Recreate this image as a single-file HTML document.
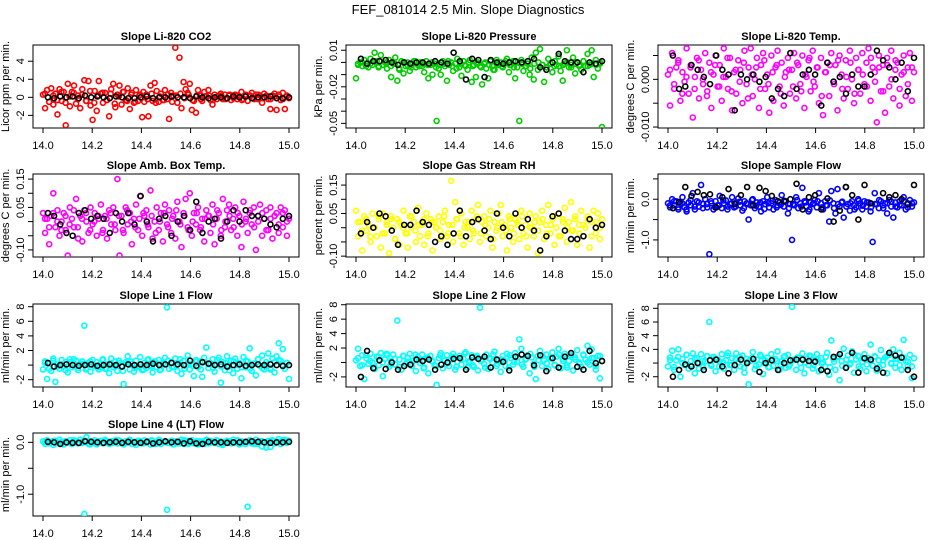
<!DOCTYPE html>
<html><head><meta charset="utf-8"><style>
html,body{margin:0;padding:0;background:#fff}
svg{display:block;font-family:"Liberation Sans",sans-serif}
</style></head><body>
<svg id="chart" width="936" height="540" viewBox="0 0 936 540">
<text x="468" y="14" text-anchor="middle" font-size="13">FEF_081014  2.5 Min. Slope Diagnostics</text>
</svg>
<script>
const xTickVals=[14.0,14.2,14.4,14.6,14.8,15.0];
const xTickLabels=["14.0","14.2","14.4","14.6","14.8","15.0"];
const titles=["Slope Li-820 CO2","Slope Li-820 Pressure","Slope Li-820 Temp.","Slope Amb. Box Temp.","Slope Gas Stream RH","Slope Sample Flow","Slope Line 1 Flow","Slope Line 2 Flow","Slope Line 3 Flow","Slope Line 4 (LT) Flow"];
const yLabels=["Licor ppm per min.","kPa per min.","degrees C per min.","degrees C per min.","percent per min.","ml/min per min.","ml/min per min.","ml/min per min.","ml/min per min.","ml/min per min."];
const yLims=[[-3.4,5.8],[-0.0538,0.0143],[-0.0102,0.0072],[-0.125,0.168],[-0.103,0.189],[-1.42,0.62],[-3.0,8.37],[-3.4,8.1],[-3.5,8.63],[-1.42,0.18]];
const yTickVals=[[-2,0,2,4],[0.01,0,-0.01,-0.02,-0.03,-0.04,-0.05],[0.005,0,-0.005,-0.01],[0.15,0.10,0.05,0,-0.05,-0.10],[0.15,0.10,0.05,0,-0.05,-0.10],[0.5,0,-0.5,-1.0],[8,6,4,2,0,-2],[8,6,4,2,0,-2],[8,6,4,2,0,-2],[0,-0.5,-1.0]];
const yTickLabels=[["-2","0","2","4"],["0.01","","","-0.02","","","-0.05"],["","0.000","","-0.010"],["0.15","","0.05","","","-0.10"],["0.15","","0.05","","","-0.10"],["","0.0","","-1.0"],["8","6","4","2","","-2"],["8","6","4","2","","-2"],["8","6","4","2","","-2"],["0.0","","-1.0"]];
const seriesColors=["#ff0000","#00cd00","#ff00ff","#ff00ff","#ffff00","#0000ff","#00ffff","#00ffff","#00ffff","#00ffff"];
const co2Line=[0.3,-1.2,0.8,-0.5,1.0,-0.8,0.4,-1.9,0.9,-0.4,0.6,-3.1,1.5,-1.0,0.6,1.3,-0.7,0.2,-1.2,0.9,1.9,-0.4,1.8,-0.9,-2.5,0.7,-1.5,1.8,0.4,-0.6,0.5,-0.3,-2.1,0.9,1.5,-1.1,0.3,1.3,-0.8,0.6,-0.3,1.0,-1.3,0.5,-0.6,0.8,-0.4,0.3,-2.2,-0.5,0.3,-2.1,1.3,-0.4,1.6,0.7,-0.5,0.4,-0.3,0.8,-0.2,-2.4,0.5,0.2,5.5,-0.6,4.4,-1.2,1.7,0.9,0.5,1.5,-1.4,-0.4,-1.7,0.8,0.2,-0.4,0.6,0.1,0.8,-0.3,-0.8,0.3,-0.2,0.2,0.4,-0.2,0.3,-0.1,0.2,-0.3,0.2,0.3,-0.2,0.1,0.6,-0.2,0.3,-0.4,0.2,0.5,-0.1,0.3,-0.2,0.2,-0.6,0.4,0.1,-0.2,-1.3,0.2,0.4,-1.4,0.1,-0.3,0.5,-1.3,0.2,-0.1];
const co2Band=[0.4,-0.5,0.2,-0.3,0.6,-0.6,0.1,0.5,-0.2,0.3,-0.4,0.7,-0.6,0.2,0.5,-0.3,0.4,-0.7,0.1,0.6,-0.4,0.3,-0.5,0.2,0.6,-0.2,0.4,-0.6,0.1,-0.3,0.3,-0.5,0.2,0.4,-0.1,0.3,-0.3,0.2,-0.2,0.1,0.2,-0.3,0.1,0.2,-0.2,0.3,-0.1,0.2,-0.3,0.1,0.2,-0.2,0.3,-0.1,0.2,-0.2,0.1,0.3,-0.2,0.1];
const co2Mean=[0.0,-0.1,0.1,0.0,0.1,-0.1,0.2,0.0,0.1,0.0,-0.1,0.1,0.0,-0.1,-0.1,0.0,0.1,-0.1,0.0,0.0,0.1,0.0,0.0,-0.1,0.1,0.0,-0.1,0.0,0.0,-0.1,0.1,0.0,0.1,-0.1,0.0,0.0,0.1,-0.1,-0.1,0.0];
const presLine=[-0.013,-0.001,0.000,-0.003,0.002,-0.001,-0.004,0.003,-0.002,0.008,0.001,-0.003,0.006,-0.002,0.000,-0.005,0.002,-0.012,-0.001,0.004,-0.015,-0.006,0.001,-0.009,-0.003,0.000,-0.007,-0.002,0.001,-0.004,-0.002,0.000,-0.003,-0.008,0.001,-0.013,-0.002,-0.010,-0.001,-0.048,-0.005,-0.010,0.001,-0.003,-0.015,-0.002,0.000,-0.007,-0.001,0.003,-0.004,-0.011,0.001,-0.003,-0.006,0.002,-0.016,-0.002,-0.012,0.000,-0.003,-0.018,-0.001,-0.005,-0.013,0.001,-0.003,-0.006,0.002,-0.002,0.000,-0.004,-0.001,0.003,-0.008,-0.002,0.001,-0.013,-0.004,-0.048,0.002,-0.007,-0.003,-0.001,-0.010,0.004,-0.014,0.008,-0.006,0.011,-0.002,-0.016,-0.004,0.003,-0.001,-0.008,-0.003,-0.002,0.005,-0.007,-0.015,-0.001,0.010,-0.004,-0.002,0.004,-0.009,0.000,-0.003,-0.006,0.001,-0.003,0.007,-0.002,0.010,-0.012,0.002,-0.005,-0.001,-0.053];
const presBand=[-0.002,0.000,-0.003,-0.001,0.001,-0.004,-0.002,0.000,-0.003,-0.001,-0.005,0.000,-0.002,-0.004,0.001,-0.003,-0.001,-0.002,0.000,-0.004,-0.002,-0.001,0.001,-0.003,-0.005,-0.001,-0.002,0.000,-0.003,-0.001,-0.004,0.000,-0.002,-0.006,-0.001,-0.003,0.001,-0.002,-0.004,0.000,-0.001,-0.003,-0.005,-0.001,0.000,-0.002,-0.004,-0.001,0.001,-0.003,-0.002,0.000,-0.004,-0.001,-0.002,0.001,-0.003,-0.001,-0.002,0.000];
const presMean=[0.003,-0.001,0.001,0.001,0.002,0.000,-0.002,0.000,-0.001,0.000,0.000,-0.001,0.001,0.000,-0.001,0.008,0.001,-0.014,0.003,0.002,-0.012,0.002,0.000,-0.001,0.000,0.001,0.000,0.001,0.003,-0.004,-0.006,0.000,0.007,0.001,0.000,0.000,-0.008,0.000,-0.001,0.001];
const tempLine=[0.0010,-0.0055,0.0055,-0.0020,0.0025,0.0040,-0.0045,0.0015,-0.0005,0.0065,-0.0030,0.0030,-0.0080,0.0005,0.0045,-0.0040,0.0020,-0.0010,0.0055,-0.0025,0.0035,-0.0060,0.0010,0.0050,-0.0015,0.0030,-0.0045,0.0065,0.0005,-0.0020,0.0045,-0.0065,0.0015,-0.0030,0.0040,0.0020,-0.0050,0.0060,-0.0010,0.0025,0.0065,-0.0035,0.0000,0.0045,-0.0060,0.0030,0.0055,-0.0020,0.0010,-0.0070,0.0050,-0.0045,0.0025,0.0060,-0.0015,0.0035,-0.0055,0.0015,0.0045,-0.0030,0.0020,0.0055,-0.0040,0.0030,-0.0010,0.0050,-0.0060,0.0005,0.0040,-0.0025,0.0060,-0.0015,0.0025,-0.0050,0.0045,-0.0075,0.0015,0.0035,-0.0035,0.0055,-0.0005,0.0030,-0.0065,0.0050,0.0010,-0.0040,0.0040,-0.0020,0.0060,0.0000,-0.0050,0.0045,0.0020,-0.0030,0.0055,-0.0010,0.0035,0.0065,-0.0045,0.0025,0.0015,-0.0090,0.0050,-0.0025,0.0030,-0.0070,0.0045,-0.0015,0.0060,-0.0040,0.0020,0.0035,-0.0055,0.0010,0.0050,-0.0035,0.0025,0.0055,-0.0045,0.0015];
const tempBand=[0.0020,-0.0010,0.0035,-0.0030,0.0005,0.0025,-0.0020,0.0040,0.0000,-0.0035,0.0015,0.0030,-0.0015,0.0005,0.0045,-0.0025,0.0020,-0.0005,0.0035,-0.0040,0.0010,0.0025,-0.0020,0.0040,-0.0010,0.0015,0.0030,-0.0030,0.0005,0.0020,-0.0015,0.0035,-0.0025,0.0010,0.0045,-0.0005,0.0025,-0.0035,0.0015,0.0030,-0.0010,0.0040,-0.0020,0.0005,0.0035,-0.0030,0.0020,0.0010,-0.0015,0.0045,-0.0005,0.0025,-0.0025,0.0030,0.0000,0.0040,-0.0020,0.0015,-0.0010,0.0025];
const tempMean=[0.0050,-0.0020,-0.0015,0.0030,0.0020,0.0005,-0.0010,0.0050,0.0020,0.0010,-0.0065,0.0010,0.0000,0.0010,-0.0005,0.0005,-0.0040,-0.0020,-0.0035,0.0055,-0.0020,0.0010,0.0020,0.0010,-0.0055,0.0035,-0.0005,0.0005,-0.0030,0.0010,-0.0015,-0.0015,0.0010,0.0060,0.0040,0.0025,0.0000,0.0035,-0.0025,0.0045];
const ambLine=[0.03,-0.04,0.01,-0.08,0.02,0.10,-0.02,0.04,-0.05,0.00,0.03,-0.03,-0.12,0.05,0.01,-0.02,0.08,-0.06,0.02,-0.07,0.04,0.00,-0.04,0.05,-0.01,0.03,-0.05,0.01,0.06,-0.03,0.02,-0.06,0.04,-0.01,0.05,-0.03,0.15,-0.12,0.02,-0.04,0.05,-0.01,0.03,-0.08,0.01,0.06,-0.03,0.09,-0.05,0.02,0.04,-0.02,0.11,-0.06,0.00,0.05,-0.03,0.03,-0.07,0.06,-0.01,0.04,-0.04,0.02,-0.06,0.07,0.00,-0.09,0.03,0.08,-0.02,0.10,-0.05,0.03,-0.01,0.05,-0.03,0.01,-0.07,0.04,0.02,-0.04,0.06,-0.08,0.01,0.03,-0.05,0.08,-0.02,0.04,0.06,-0.03,0.01,0.05,-0.05,0.02,-0.09,0.07,0.00,-0.04,0.03,-0.01,0.05,-0.10,0.02,0.06,-0.05,0.01,0.04,-0.03,0.05,-0.06,0.02,0.03,-0.04,0.05,-0.02,0.04,-0.05,0.01];
const ambBand=[0.01,-0.02,0.03,0.00,-0.03,0.02,-0.01,0.04,-0.02,0.01,0.03,-0.03,0.00,0.02,-0.04,0.01,0.03,-0.01,0.02,-0.03,0.04,0.00,-0.02,0.01,0.03,-0.01,0.02,-0.04,0.00,0.03,-0.02,0.01,0.04,-0.01,0.02,-0.03,0.00,0.03,-0.02,0.01,0.02,-0.01,0.04,-0.03,0.00,0.02,-0.02,0.03,-0.01,0.01,0.04,-0.02,0.00,0.03,-0.03,0.01,0.02,-0.01,0.03,0.00];
const ambMean=[0.03,0.02,-0.01,-0.04,-0.05,0.03,0.04,0.01,0.02,0.01,-0.04,0.03,0.00,0.03,-0.01,0.09,0.00,-0.07,0.01,0.02,-0.05,0.00,0.02,-0.03,0.07,-0.04,0.00,0.01,-0.06,0.00,0.04,0.00,0.04,0.02,0.02,0.01,-0.01,-0.02,0.01,0.02];
const rhLine=[0.06,-0.03,0.02,-0.08,0.04,-0.01,0.01,-0.05,0.05,0.00,-0.03,0.03,-0.07,0.05,-0.02,0.02,-0.09,0.04,0.00,-0.04,0.03,-0.06,0.01,0.06,-0.02,-0.07,0.04,0.00,0.02,-0.05,0.07,-0.03,0.01,-0.06,0.05,-0.02,0.03,-0.08,0.02,0.00,0.04,-0.04,0.02,0.06,-0.03,0.01,0.165,-0.05,0.09,0.03,-0.02,0.05,-0.06,0.02,0.00,-0.04,0.06,-0.02,0.03,0.08,-0.05,0.02,0.04,-0.03,0.00,0.06,-0.07,0.02,-0.01,0.05,0.08,-0.03,0.01,-0.08,0.04,0.00,-0.05,0.03,0.02,-0.04,0.06,-0.02,0.01,-0.07,0.05,0.00,-0.03,0.04,-0.09,0.02,0.06,-0.04,0.01,0.08,-0.02,0.03,-0.06,0.00,0.05,-0.03,0.03,0.07,-0.05,0.02,0.09,-0.01,0.04,-0.06,0.01,0.06,-0.03,0.00,0.04,-0.07,0.02,0.06,-0.02,0.05,-0.04,0.03];
const rhBand=[0.02,-0.01,0.03,-0.03,0.00,0.04,-0.02,0.01,0.03,-0.04,0.02,0.00,-0.02,0.04,-0.01,0.01,0.03,-0.03,0.02,0.00,-0.01,0.04,-0.02,0.01,0.03,-0.03,0.00,0.02,-0.01,0.04,-0.02,0.01,0.03,-0.04,0.00,0.02,-0.01,0.03,-0.02,0.01,0.04,-0.03,0.00,0.02,-0.01,0.03,-0.02,0.01,0.04,-0.03,0.02,0.00,-0.01,0.03,-0.02,0.01,0.03,-0.03,0.02,0.00];
const rhMean=[-0.02,0.02,0.00,0.05,0.04,-0.01,-0.06,0.01,0.01,0.06,0.02,0.01,-0.05,-0.03,-0.06,-0.02,0.06,-0.03,0.02,0.03,-0.01,-0.04,0.05,0.00,-0.03,0.05,0.00,0.03,-0.01,-0.08,-0.03,0.04,0.05,-0.01,-0.04,-0.04,-0.03,0.03,0.00,0.01];
const sampleLine=[-0.10,-0.20,0.00,-0.15,-0.05,-0.25,-0.10,0.05,-0.20,-0.30,-0.08,-0.15,0.15,-0.25,-0.05,-0.18,0.35,-0.12,0.00,-0.20,-1.35,-0.10,-0.25,-0.05,-0.15,0.08,-0.22,-0.10,-0.03,-0.18,-0.12,0.05,-0.20,-0.08,0.02,-0.15,-0.28,-0.05,-0.10,-0.50,-0.15,0.00,-0.22,-0.08,-0.18,-0.30,-0.05,-0.12,0.05,-0.20,-0.10,-0.25,-0.02,-0.15,-0.08,0.10,-0.18,-0.05,-0.35,-0.12,-1.00,-0.15,0.05,-0.22,-0.10,0.28,-0.05,-0.18,-0.30,-0.08,-0.12,-0.02,-0.20,0.15,-0.10,-0.25,-0.05,-0.15,-0.55,0.20,-0.10,-0.35,0.25,-0.18,-0.08,-0.45,0.30,-0.12,-0.28,-0.05,-0.15,-0.20,0.00,-0.10,-0.25,-0.05,-0.18,-0.08,-0.30,-1.05,0.15,-0.12,-0.22,-0.05,-0.15,-0.10,-0.35,-0.02,-0.18,-0.45,-0.08,-0.20,-0.05,-0.15,0.05,-0.25,-0.10,-0.02,-0.18,-0.08];
const sampleBand=[-0.15,-0.05,-0.20,-0.10,-0.25,-0.02,-0.18,-0.08,-0.22,-0.12,-0.05,-0.20,-0.15,-0.03,-0.25,-0.10,-0.18,-0.06,-0.22,-0.12,-0.02,-0.16,-0.08,-0.24,-0.10,-0.04,-0.20,-0.14,-0.06,-0.22,-0.12,-0.02,-0.18,-0.08,-0.25,-0.10,-0.05,-0.20,-0.15,-0.03,-0.22,-0.12,-0.06,-0.18,-0.10,-0.25,-0.04,-0.16,-0.08,-0.20,-0.12,-0.02,-0.22,-0.10,-0.06,-0.18,-0.14,-0.04,-0.20,-0.10];
const sampleMean=[-0.22,-0.07,0.30,0.08,0.18,0.10,0.12,-0.20,0.05,0.25,-0.12,0.10,0.30,-0.15,0.28,0.20,0.08,-0.05,-0.04,0.00,0.38,-0.25,0.05,0.10,-0.25,0.02,-0.55,-0.28,0.30,0.10,-0.50,0.35,-0.10,0.80,0.15,0.05,0.10,0.00,-0.12,0.35];
const line1Flow=[-0.6,0.5,-1.9,0.2,-0.8,0.9,-2.3,0.1,-0.5,0.7,-0.2,0.4,-1.0,0.8,-0.3,0.2,0.6,-0.7,0.1,0.5,5.4,-0.4,0.3,-0.9,0.7,-0.2,0.4,-0.6,0.2,0.8,-0.5,0.1,-1.1,0.9,-0.3,0.5,-0.8,0.3,-0.1,-2.6,0.4,1.2,-0.6,0.2,-0.9,0.6,-0.2,1.1,-0.7,0.3,-0.4,0.8,0.0,-1.0,0.5,-0.3,0.7,-0.6,0.2,1.0,7.9,-0.5,0.4,-0.2,0.9,-0.8,0.3,-1.2,0.6,-0.1,1.3,-0.6,0.2,-1.5,0.7,-0.3,0.5,-1.6,1.0,2.4,-0.4,0.3,0.8,-0.9,0.1,1.0,-2.4,0.4,-0.7,1.2,-0.2,0.6,-1.1,0.9,-0.5,0.3,-1.8,1.1,-0.3,0.5,2.3,-0.8,0.2,-1.4,0.8,-0.1,1.3,-0.6,0.4,1.6,-0.4,0.9,-1.0,1.2,3.0,0.6,2.2,-0.5,0.3,-1.9];
const line1Band=[0.3,-0.5,0.6,-0.2,0.1,-0.7,0.4,0.8,-0.4,0.2,-0.6,0.5,0.0,-0.3,0.7,-0.5,0.3,-0.1,0.6,-0.8,0.2,0.5,-0.4,0.1,-0.6,0.7,-0.2,0.4,-0.7,0.3,0.6,-0.3,0.0,0.8,-0.5,0.2,-0.1,0.5,-0.6,0.4,0.1,-0.4,0.7,-0.2,0.3,-0.7,0.5,0.0,-0.3,0.6,-0.5,0.2,0.8,-0.4,0.1,-0.6,0.4,0.7,-0.2,0.3];
const line1Mean=[0.3,-0.2,0.0,0.1,0.0,-0.1,0.0,0.1,-0.1,0.0,0.1,0.0,-0.2,0.1,0.0,0.1,0.0,0.2,0.0,0.1,0.3,0.1,0.0,0.6,-0.1,0.4,0.2,0.0,0.1,-0.2,0.0,0.1,-0.1,0.0,0.1,0.0,0.1,0.0,-0.1,0.0];
const line2Flow=[0.3,1.9,-0.5,1.0,-2.3,0.6,-0.2,1.2,0.0,-0.9,0.8,-0.4,1.3,-1.9,0.5,1.0,-0.6,0.2,1.1,-0.3,5.8,0.4,-1.0,0.9,-0.2,0.6,1.2,-0.5,0.3,-1.2,0.8,-0.1,1.1,-0.7,0.5,-1.5,0.9,0.2,-0.4,-3.1,0.6,1.3,-0.8,0.3,1.0,-0.5,0.4,1.2,-1.0,0.1,0.9,-0.3,0.5,1.4,-0.7,0.2,1.0,-0.6,0.7,-1.1,7.6,0.4,-0.2,1.1,-0.9,0.5,0.0,1.5,-0.5,0.3,-1.3,0.9,0.2,1.2,-0.7,0.6,-0.3,1.3,0.1,3.2,1.9,-0.6,0.4,1.0,-1.5,0.7,-0.2,-2.3,0.9,1.6,-0.5,0.3,1.1,-0.9,0.6,1.4,-0.3,0.8,1.9,-0.8,0.5,1.2,-0.4,0.2,1.0,-1.1,0.7,1.7,0.0,-0.6,1.1,0.4,2.3,-0.3,1.8,0.6,-1.0,0.9,-2.2,0.2];
const line2Band=[0.6,-0.4,1.0,0.2,-0.7,0.8,0.0,1.2,-0.3,0.5,-0.6,0.9,0.1,-0.2,1.1,0.4,-0.8,0.7,0.2,-0.5,1.0,0.3,-0.1,0.8,-0.6,0.5,1.2,0.0,-0.4,0.9,0.2,-0.7,0.6,1.1,-0.2,0.4,-0.5,1.0,0.1,0.7,-0.3,0.5,1.2,-0.6,0.3,0.9,-0.1,0.6,-0.4,1.1,0.2,-0.7,0.8,0.4,-0.2,1.0,0.0,0.6,-0.5,0.9];
const line2Mean=[-2.0,1.6,-0.8,0.3,-0.9,0.0,-1.0,-0.5,-0.3,0.4,0.2,0.4,-1.0,-0.3,0.0,0.5,0.6,-1.0,0.7,0.5,0.8,-0.7,0.4,0.1,-1.1,0.8,1.1,0.9,-0.4,1.0,-1.2,0.6,-0.7,0.8,1.3,-0.6,-1.0,1.6,-0.1,0.2];
const line3Flow=[-0.5,0.8,1.8,-1.0,0.4,2.0,-2.0,0.6,-0.3,1.2,-0.8,0.3,1.4,-1.5,0.7,0.0,1.3,-0.6,0.2,1.0,6.0,-0.4,0.9,-1.2,0.5,0.2,1.3,-0.8,0.4,1.5,-0.3,0.7,-1.0,1.4,0.1,-0.5,1.1,-1.4,0.6,-3.1,0.3,1.6,-0.9,0.5,-0.2,1.0,-1.6,0.4,0.8,-0.6,1.3,-0.4,0.6,1.7,-1.0,0.2,0.9,-0.7,1.2,-0.2,8.2,0.5,-1.0,0.8,0.0,1.4,-1.5,0.6,-0.3,1.0,-0.8,0.4,1.3,-1.2,0.7,0.1,-0.5,1.5,-1.7,3.3,0.6,-1.0,0.9,-2.5,0.3,2.1,-0.6,1.1,-0.2,1.7,-1.4,0.5,1.0,-0.8,0.2,1.3,-1.2,0.7,2.7,-0.4,1.0,-1.1,0.4,1.9,-0.3,0.8,-1.5,1.2,0.0,2.0,-0.7,0.6,1.5,-1.0,3.4,0.3,-0.5,1.2,-2.2,0.7];
const line3Band=[0.4,-0.6,0.9,0.0,1.2,-0.4,0.6,-0.8,0.3,1.0,-0.2,0.7,-0.5,0.1,1.1,-0.3,0.5,0.9,-0.7,0.2,0.8,-0.4,1.2,0.0,-0.6,0.6,0.3,-0.2,1.0,-0.5,0.4,0.8,-0.7,0.1,1.1,-0.3,0.6,-0.1,0.9,-0.6,0.2,1.0,-0.4,0.5,0.0,1.2,-0.5,0.7,-0.2,0.3,0.9,-0.6,0.4,1.1,-0.1,0.6,-0.3,0.8,0.2,-0.5];
const line3Mean=[-2.0,-1.0,-0.2,-0.5,0.0,-1.0,0.4,0.5,-0.5,-1.5,-0.3,0.5,0.0,0.6,-1.3,0.0,0.4,-1.0,0.0,0.4,0.5,0.5,0.3,0.2,-1.0,-1.2,0.9,1.3,-0.7,1.5,-1.4,0.7,0.5,-0.8,-1.4,1.5,1.1,0.8,-1.0,-2.0];
const line4Flow=[0.02,-0.03,0.04,-0.01,0.00,-0.05,0.03,-0.02,0.05,0.01,-0.04,0.02,-0.01,0.04,-0.03,0.00,0.03,-0.02,0.05,-0.01,-1.38,0.10,-0.03,0.02,-0.01,0.04,-0.04,0.01,0.03,-0.02,0.05,0.00,-0.03,0.02,-0.01,0.04,-0.02,0.03,0.00,-0.04,0.02,-0.01,0.05,-0.03,0.01,-0.05,0.03,0.00,-0.02,0.04,-0.01,0.02,-0.04,0.03,0.00,-0.02,0.05,-0.03,0.01,0.02,-1.30,-0.01,0.03,-0.04,0.02,0.00,-0.02,0.05,-0.03,0.01,0.03,-0.01,0.04,-0.02,0.00,-0.04,0.02,0.01,-0.03,0.05,-0.02,0.03,0.00,-0.01,0.04,-0.03,0.02,-0.05,0.01,0.03,0.00,-0.02,0.05,-0.01,0.03,-0.04,0.02,0.00,-0.03,-1.24,0.04,-0.02,0.01,0.05,-0.03,0.02,-0.08,0.00,-0.10,0.03,-0.09,0.04,-0.02,0.01,0.06,-0.03,0.02,0.05,-0.01,0.03];
const line4Band=[0.01,-0.02,0.03,0.00,-0.03,0.02,-0.01,0.04,-0.02,0.01,0.03,-0.04,0.00,0.02,-0.01,0.03,-0.02,0.01,0.04,-0.03,0.00,0.02,-0.01,0.03,-0.02,0.01,0.04,-0.03,0.02,0.00,-0.01,0.03,-0.02,0.01,0.04,-0.03,0.00,0.02,-0.01,0.03,-0.02,0.01,0.03,-0.04,0.00,0.02,-0.01,0.04,-0.02,0.01,0.03,-0.03,0.00,0.02,-0.01,0.03,-0.02,0.01,0.04,0.00];
const line4Mean=[0.01,0.00,-0.03,0.00,-0.01,-0.01,0.02,0.01,0.00,-0.01,0.00,0.01,-0.01,0.01,0.00,-0.01,0.01,-0.02,0.00,0.02,0.00,0.01,-0.02,0.02,-0.02,-0.03,0.01,0.00,0.00,-0.01,0.00,0.00,0.01,0.02,0.01,0.00,-0.01,0.00,0.00,0.01];
const lineSeries=[co2Line,presLine,tempLine,ambLine,rhLine,sampleLine,line1Flow,line2Flow,line3Flow,line4Flow];
const bandSeries=[co2Band,presBand,tempBand,ambBand,rhBand,sampleBand,line1Band,line2Band,line3Band,line4Band];
const meanSeries=[co2Mean,presMean,tempMean,ambMean,rhMean,sampleMean,line1Mean,line2Mean,line3Mean,line4Mean];

const NS="http://www.w3.org/2000/svg";
const svg=document.getElementById('chart');
const colX=[33,346,658], rowY=[45,174,304,433], FW=266, FH=83;
function mk(tag,attrs,parent){const e=document.createElementNS(NS,tag);for(const k in attrs)e.setAttribute(k,attrs[k]);parent.appendChild(e);return e;}
function slug(s){return s.toLowerCase().replace(/[^a-z0-9]+/g,'-').replace(/^-|-$/g,'');}

titles.forEach((title,p)=>{
  const fx=colX[p%3], fy=rowY[Math.floor(p/3)];
  const [y0,y1]=yLims[p];
  const xs=v=>fx+10+(v-14)*(FW-20);
  const ys=v=>fy+FH-(v-y0)/(y1-y0)*FH;
  const g=mk('g',{},svg);
  
  
  const t=mk('text',{x:fx+FW/2,y:fy-5,'text-anchor':'middle','font-size':'11','font-weight':'bold'},g);
  t.textContent=title;
  
  
  const xa=mk('g',{},g);
  
  
  mk('line',{x1:xs(14),x2:xs(15),y1:fy+FH,y2:fy+FH,stroke:'#000','stroke-width':1},xa);
  xTickVals.forEach((v,i)=>{
    mk('line',{x1:xs(v),x2:xs(v),y1:fy+FH,y2:fy+FH+5,stroke:'#000','stroke-width':1},xa);
    const tl=mk('text',{x:xs(v),y:fy+FH+21,'text-anchor':'middle','font-size':'11'},xa);
    tl.textContent=xTickLabels[i];
    
    
  });
  const ya=mk('g',{},g);
  
  
  const tv=yTickVals[p];
  mk('line',{x1:fx,x2:fx,y1:ys(Math.min(...tv)),y2:ys(Math.max(...tv)),stroke:'#000','stroke-width':1},ya);
  tv.forEach((v,i)=>{
    mk('line',{x1:fx-5,x2:fx,y1:ys(v),y2:ys(v),stroke:'#000','stroke-width':1},ya);
    if(yTickLabels[p][i]){
      const yl=mk('text',{x:0,y:0,'text-anchor':'middle','font-size':'11',transform:`translate(${fx-9},${ys(v)}) rotate(-90)`},ya);
      yl.textContent=yTickLabels[p][i];
      
      
    }
  });
  const yt=mk('text',{x:0,y:0,'text-anchor':'middle','font-size':'11',transform:`translate(${fx-24},${fy+FH/2}) rotate(-90)`},g);
  yt.textContent=yLabels[p];
  
  
  const fr=mk('rect',{x:fx,y:fy,width:FW,height:FH,fill:'none',stroke:'#000','stroke-width':1},g);
  
  
  const cp=mk('clipPath',{id:'cp'+p},g);
  mk('rect',{x:fx,y:fy,width:FW,height:FH},cp);
  const pts=mk('g',{'clip-path':`url(#cp${p})`},g);
  
  
  const bs=bandSeries[p], nb=bs.length;
  bs.forEach((v,i)=>{
    const c=mk('circle',{cx:xs(14+(i+0.5)/nb),cy:ys(v),r:2.5,fill:'none',stroke:seriesColors[p],'stroke-width':1.6},pts);
    
    
  });
  const ls=lineSeries[p], n=ls.length;
  ls.forEach((v,i)=>{
    const c=mk('circle',{cx:xs(14+i/(n-1)),cy:ys(v),r:2.5,fill:'none',stroke:seriesColors[p],'stroke-width':1.6},pts);
    
    
  });
  const mp=mk('g',{'clip-path':`url(#cp${p})`},g);
  
  
  const ms=meanSeries[p], m=ms.length;
  ms.forEach((v,i)=>{
    const c=mk('circle',{cx:xs(14.02+i*0.98/(m-1)),cy:ys(v),r:2.5,fill:'none',stroke:'#000','stroke-width':1.6},mp);
    
    
  });
});
</script>
</body></html>
